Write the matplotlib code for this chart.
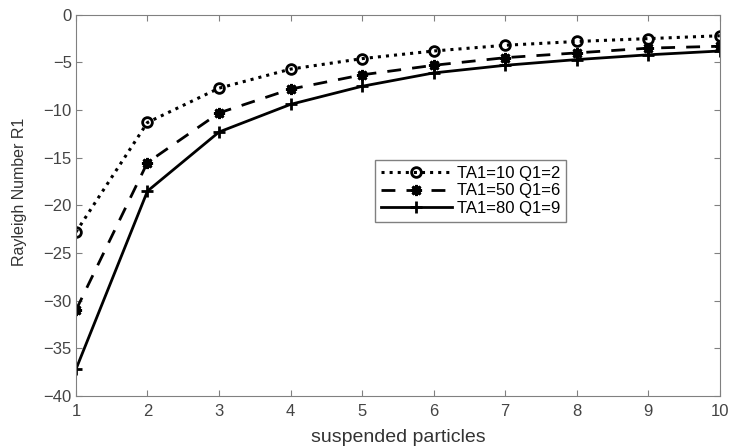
import matplotlib
matplotlib.use("Agg")
import matplotlib.pyplot as plt

plt.rcParams['font.family'] = ['Liberation Sans', 'DejaVu Sans']

particles = [1, 2, 3, 4, 5, 6, 7, 8, 9, 10]
r1_ta10 = [-22.8, -11.3, -7.7, -5.7, -4.6, -3.8, -3.2, -2.8, -2.5, -2.2]
r1_ta50 = [-31.0, -15.5, -10.3, -7.8, -6.3, -5.3, -4.5, -4.0, -3.5, -3.3]
r1_ta80 = [-37.2, -18.5, -12.3, -9.4, -7.5, -6.1, -5.3, -4.7, -4.2, -3.8]
labels = ["TA1=10 Q1=2", "TA1=50 Q1=6", "TA1=80 Q1=9"]

fig = plt.figure(figsize=(7.3, 4.48), dpi=100)
ax = fig.add_axes([0.104, 0.116, 0.882, 0.851])

ax.plot(particles, r1_ta10, color='black', linestyle=':', linewidth=2.2,
        marker='o', markersize=7, markerfacecolor='none', markeredgewidth=2, label=labels[0])
ax.plot(particles, r1_ta50, color='black', linestyle=(0, (5, 4)), linewidth=2,
        marker=(8, 2, 0), markersize=8, markeredgewidth=2, label=labels[1])
ax.plot(particles, r1_ta80, color='black', linestyle='-', linewidth=2,
        marker='+', markersize=9, markeredgewidth=2, label=labels[2])

ax.set_xlim(1, 10)
ax.set_ylim(-40, 0)
ax.set_xticks(particles)
ax.set_yticks(range(-40, 1, 5))

grey = '#808080'
for s in ax.spines.values():
    s.set_color(grey)
ax.tick_params(direction='in', top=True, right=True, color=grey,
               labelcolor='#444444', labelsize=12, length=4)
ax.tick_params(axis='x', pad=6)
ax.tick_params(axis='y', pad=3)

ax.set_xlabel("suspended particles", fontsize=14, color='#333333', labelpad=7)
ax.set_ylabel("Rayleigh Number R1", fontsize=11.5, color='#333333')
ax.yaxis.set_label_coords(-0.076, 0.535)

leg = ax.legend(loc='upper left', bbox_to_anchor=(0.464, 0.619), borderaxespad=0,
                fontsize=12, fancybox=False, edgecolor=grey, framealpha=1,
                handlelength=4.3, borderpad=0.35, labelspacing=0.15, handletextpad=0.3)
leg.get_frame().set_linewidth(1)

fig.savefig("out.png", dpi=100)
